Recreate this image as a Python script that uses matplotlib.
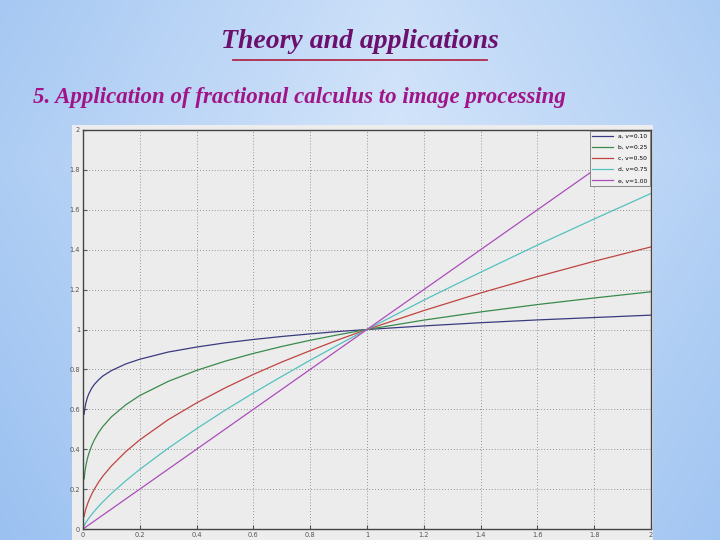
import numpy as np
import matplotlib
matplotlib.use("Agg")
import matplotlib.pyplot as plt
from matplotlib.patches import Rectangle

# -- Data --------------------------------------------------------------------
x_vals = [0.004, 0.007, 0.01, 0.015, 0.02, 0.03, 0.04, 0.055, 0.07, 0.1,
          0.15, 0.2, 0.3, 0.4, 0.5, 0.6, 0.7, 0.8, 0.9, 1.0, 1.2, 1.4, 1.6,
          1.8, 2.0]
curve_a = [0.576, 0.609, 0.631, 0.657, 0.676, 0.704, 0.725, 0.748, 0.767,
           0.794, 0.827, 0.851, 0.887, 0.912, 0.933, 0.950, 0.965, 0.978,
           0.990, 1.0, 1.018, 1.034, 1.048, 1.060, 1.072]
curve_b = [0.251, 0.289, 0.316, 0.350, 0.376, 0.416, 0.447, 0.484, 0.514,
           0.562, 0.622, 0.669, 0.740, 0.795, 0.841, 0.880, 0.915, 0.946,
           0.974, 1.0, 1.047, 1.088, 1.125, 1.158, 1.189]
curve_c = [0.063, 0.084, 0.100, 0.122, 0.141, 0.173, 0.200, 0.235, 0.265,
           0.316, 0.387, 0.447, 0.548, 0.632, 0.707, 0.775, 0.837, 0.894,
           0.949, 1.0, 1.095, 1.183, 1.265, 1.342, 1.414]
curve_d = [0.016, 0.024, 0.032, 0.043, 0.053, 0.072, 0.089, 0.114, 0.136,
           0.178, 0.241, 0.299, 0.405, 0.503, 0.595, 0.682, 0.765, 0.846,
           0.924, 1.0, 1.147, 1.287, 1.423, 1.554, 1.682]
curve_e = [0.004, 0.007, 0.010, 0.015, 0.020, 0.030, 0.040, 0.055, 0.070,
           0.100, 0.150, 0.200, 0.300, 0.400, 0.500, 0.600, 0.700, 0.800,
           0.900, 1.0, 1.200, 1.400, 1.600, 1.800, 2.000]
labels = ["a, v=0.10", "b, v=0.25", "c, v=0.50", "d, v=0.75", "e, v=1.00"]
colors = ["#3a3a80", "#3a8a4c", "#bf4441", "#52c2c0", "#ab4dbb"]
ticks = [0, 0.2, 0.4, 0.6, 0.8, 1, 1.2, 1.4, 1.6, 1.8, 2]
tick_labels = ["0", "0.2", "0.4", "0.6", "0.8", "1", "1.2", "1.4", "1.6", "1.8", "2"]

# -- Figure / slide background -------------------------------------------------
fig = plt.figure(figsize=(7.2, 5.4), dpi=100)

bg = fig.add_axes([0, 0, 1, 1], zorder=-5)
gx, gy = np.meshgrid(np.linspace(0, 1, 360), np.linspace(0, 1, 270))
d = np.clip(np.abs(gx - 0.55) * 1.1 + np.abs(gy - 0.3) * 0.45, 0, 1)
light = np.array([212, 229, 250]) / 255.0
deep = np.array([150, 190, 240]) / 255.0
img = light[None, None, :] * (1 - d[..., None]) + deep[None, None, :] * d[..., None]
bg.imshow(img, aspect="auto", extent=[0, 1, 0, 1], origin="upper", zorder=0)
bg.set_xlim(0, 1)
bg.set_ylim(0, 1)
bg.axis("off")

# titles
bg.text(0.5, 1 - 42 / 540, "Theory and applications", ha="center", va="center",
        family="Liberation Serif", style="italic", weight="bold", fontsize=20,
        color="#6c106e", zorder=3)
bg.plot([233 / 720, 487 / 720], [1 - 60 / 540, 1 - 60 / 540],
        color="#b02a48", lw=1.3, zorder=3)
bg.text(33 / 720, 1 - 97 / 540,
        "5. Application of fractional calculus to image processing",
        ha="left", va="center", family="Liberation Serif", style="italic",
        weight="bold", fontsize=16.5, color="#a01488", zorder=3)

# screenshot panel behind the axes
bg.add_patch(Rectangle((72 / 720, 0), 581 / 720, 415 / 540,
                       facecolor="#ededed", edgecolor="none", zorder=2))

# -- Chart ---------------------------------------------------------------------
ax = fig.add_axes([83 / 720, 11 / 540, 568 / 720, 399 / 540])
ax.set_facecolor("#ececec")
for ys, c, lab in zip([curve_a, curve_b, curve_c, curve_d, curve_e], colors, labels):
    ax.plot(x_vals, ys, color=c, lw=0.9, label=lab)

ax.set_xlim(0, 2)
ax.set_ylim(0, 2)
ax.set_xticks(ticks)
ax.set_xticklabels(tick_labels)
ax.set_yticks(ticks)
ax.set_yticklabels(tick_labels)
ax.tick_params(direction="in", length=3, width=0.8, labelsize=4.8,
               colors="#555555", pad=2)
ax.grid(True, linestyle=(0, (1, 2.5)), color="#777777", lw=0.6)
for s in ax.spines.values():
    s.set_color("#444444")
    s.set_linewidth(1.0)

leg = ax.legend(loc="upper right", fontsize=4.3, frameon=True, fancybox=False,
                borderaxespad=0.2, handlelength=3.5, labelspacing=1.0,
                edgecolor="#777777", facecolor="#efefef")
leg.get_frame().set_linewidth(0.6)
leg.get_frame().set_alpha(1)

fig.savefig("out.png", dpi=100)
